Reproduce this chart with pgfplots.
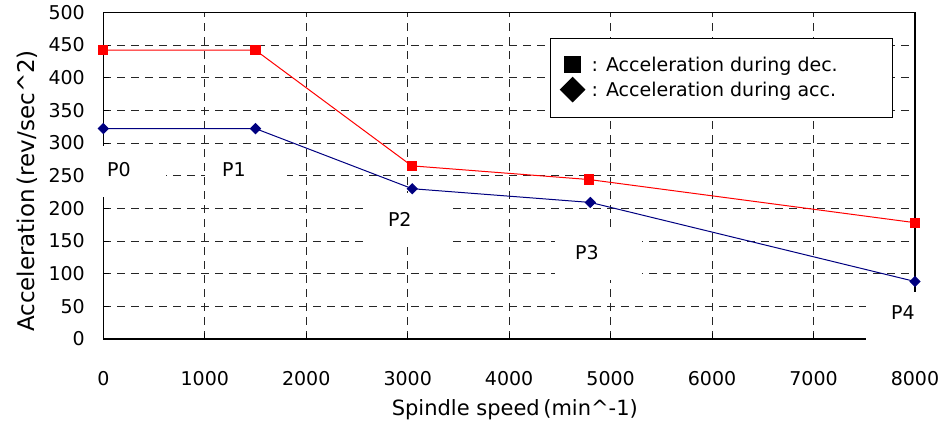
\documentclass[border=0pt]{standalone}
\usepackage{fontspec}
\setmainfont{DejaVu Sans}
\usepackage{pgfplots}
\pgfplotsset{compat=1.18}
\usetikzlibrary{calc}
\definecolor{accred}{RGB}{255,0,0}
\definecolor{accblue}{RGB}{0,0,128}
\newcommand{\fs}{\fontsize{19bp}{23bp}\selectfont}
\newcommand{\fx}{\fontsize{21bp}{25bp}\selectfont}
\newcommand{\fy}{\fontsize{23bp}{27bp}\selectfont}
\begin{document}
\begin{tikzpicture}
\begin{axis}[name=ax, scale only axis, width=811.7bp, height=326.7bp,
  xmin=0, xmax=8000, ymin=0, ymax=500,
  xtick={0,1000,...,8000}, ytick={0,50,...,500},
  grid=major,
  major grid style={dash pattern=on 8bp off 6bp, black!85, line width=0.8bp},
  axis line style={line width=1.1bp, black},
  tick style={black, line width=0.8bp}, major tick length=6bp, tick align=inside,
  tick pos=left,
  ticklabel style={font=\fs},
  /pgf/number format/assume math mode=true,
  /pgf/number format/set thousands separator={},
  xticklabel style={yshift=-29bp},
  yticklabel style={xshift=-15bp},
  xlabel={Spindle speed\,(min\textasciicircum-1)},
  ylabel={Acceleration\,(rev/sec\textasciicircum2)},
  xlabel style={font=\fx, at={(axis description cs:0.507,-0.217)}, anchor=center},
  ylabel style={font=\fy, at={(axis description cs:-0.094,0.453)}, anchor=center},
  clip=false,
  legend style={at={(0.5503,0.9213)}, anchor=north west, draw=black, line width=1.2bp,
    fill=white, font=\fs, inner xsep=10bp, inner ysep=16bp, row sep=3bp},
  legend cell align=left,
]
\addlegendimage{only marks, mark=square*, mark size=8bp, black}
\addlegendentry{\makebox[294bp][l]{\hspace{5bp}: Acceleration during dec.}}
\addlegendimage{only marks, mark=square*, mark size=8.5bp, mark options={rotate=45}, black}
\addlegendentry{\makebox[294bp][l]{\hspace{5bp}: Acceleration during acc.}}

\addplot[accred, line width=1bp, mark=square*, mark size=4.6bp, forget plot]
  coordinates {(0,442) (1500,442) (3040,265) (4790,244) (8000,178)};
\addplot[accblue, line width=1bp, mark=square*, mark size=3.5bp, mark options={rotate=45}, forget plot]
  coordinates {(0,322) (1500,322) (3045,230) (4800,209) (8000,88)};

\fill[white] (axis cs:-22,217.4) rectangle (axis cs:617,295.4);
\fill[white] (axis cs:1002,217.4) rectangle (axis cs:1810,295.4);
\fill[white] (axis cs:2609,143.9) rectangle (axis cs:3407,223.5);
\fill[white] (axis cs:4452,90.3) rectangle (axis cs:5309,166.8);
\fill[white] (axis cs:7518,-9) rectangle (axis cs:8345,72);
\node[font=\fs] at (axis cs:153,258.7) {P0};
\node[font=\fs] at (axis cs:1287,258.7) {P1};
\node[font=\fs] at (axis cs:2922,183.7) {P2};
\node[font=\fs] at (axis cs:4766,131.6) {P3};
\node[font=\fs] at (axis cs:7881,39.8) {P4};
\end{axis}
\pgfresetboundingbox
\path ($(ax.south west)+(-103.3bp,-86bp)$) rectangle ($(ax.north east)+(32bp,12.3bp)$);
\end{tikzpicture}
\end{document}
